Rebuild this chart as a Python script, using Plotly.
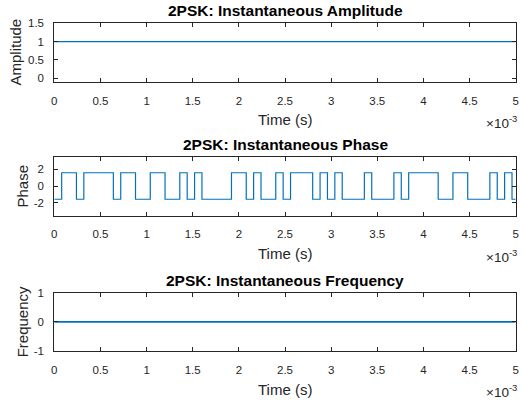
import plotly.graph_objects as go

# ---------------- data ----------------
T_END = 5e-3                 # s
TB = 0.08e-3                 # bit duration (s)
bits = [0, 1, 1, 0, 1, 1, 1, 1, 0, 1, 1, 0, 0, 1, 1, 0, 0, 1, 0, 1, 0,
        0, 0, 0, 1, 1, 0, 1, 0, 0, 1, 0, 1, 1, 1, 0, 1, 0, 1, 0, 0, 0,
        1, 0, 0, 0, 1, 0, 1, 1, 1, 1, 0, 0, 1, 1, 0, 0, 0, 1, 0, 1, 0]
PHASE_LEVELS = {0: -1.5708, 1: 1.5708}
amp_t = [0.0, T_END]
amp_v = [1.0, 1.0]
freq_t = [0.0, T_END]
freq_v = [0.0, 0.0]
x_tickvals = [0, 0.5e-3, 1e-3, 1.5e-3, 2e-3, 2.5e-3, 3e-3, 3.5e-3, 4e-3, 4.5e-3, 5e-3]
x_ticktext = ["0", "0.5", "1", "1.5", "2", "2.5", "3", "3.5", "4", "4.5", "5"]
titles = ["2PSK: Instantaneous Amplitude", "2PSK: Instantaneous Phase",
          "2PSK: Instantaneous Frequency"]
ylabels = ["Amplitude", "Phase", "Frequency"]

phase_t = [i * TB for i in range(len(bits))] + [T_END]
phase_v = [PHASE_LEVELS[b] for b in bits] + [PHASE_LEVELS[bits[-1]]]

# ---------------- layout helpers ----------------
W, H = 521, 405
FONT = "Liberation Sans, Arial, sans-serif"
TXT = "#262626"
BLUE = "#0072BD"

def px_x(x):
    return x / W

def px_y(y):
    return 1 - y / H

x0, x1 = 54.3, 515.7
boxes = [(23.3, 81.7), (156.5, 215.5), (292.7, 351.0)]  # top, bottom in px

fig = go.Figure()
fig.add_trace(go.Scatter(x=amp_t, y=amp_v, mode="lines",
                         line=dict(color=BLUE, width=1.2), xaxis="x", yaxis="y"))
fig.add_trace(go.Scatter(x=phase_t, y=phase_v, mode="lines", line_shape="hv",
                         line=dict(color=BLUE, width=1.2), xaxis="x2", yaxis="y2"))
fig.add_trace(go.Scatter(x=freq_t, y=freq_v, mode="lines",
                         line=dict(color=BLUE, width=1.6), xaxis="x3", yaxis="y3"))

common_x = dict(range=[0, T_END], tickvals=x_tickvals, ticktext=x_ticktext,
                ticks="inside", ticklen=4, tickcolor=TXT, showline=True,
                linecolor=TXT, linewidth=1, mirror="allticks", showgrid=False,
                zeroline=False, tickfont=dict(family=FONT, size=11.5, color=TXT),
                ticklabelstandoff=8, automargin=False, ticklabeloverflow="allow",
                domain=[px_x(x0), px_x(x1)])
common_y = dict(ticks="inside", ticklen=4, tickcolor=TXT, showline=True,
                linecolor=TXT, linewidth=1, mirror="allticks", showgrid=False,
                zeroline=False, tickfont=dict(family=FONT, size=11.5, color=TXT),
                ticklabelstandoff=7, automargin=False)

yranges = [[-0.1, 1.5], [-3.5, 3.5], [-1, 1]]
yticks = [([0, 0.5, 1, 1.5], ["0", "0.5", "1", "1.5"]),
          ([-2, 0, 2], ["-2", "0", "2"]),
          ([-1, 0, 1], ["-1", "0", "1"])]

layout = dict(width=W, height=H, margin=dict(l=0, r=0, t=0, b=0, autoexpand=False),
              paper_bgcolor="white", plot_bgcolor="white", showlegend=False,
              hovermode=False)
annotations = []
ylabel_x = [15, 21.5, 22.5]
for i in range(3):
    top, bot = boxes[i]
    sfx = "" if i == 0 else str(i + 1)
    layout["xaxis" + sfx] = dict(common_x, anchor="y" + sfx)
    layout["yaxis" + sfx] = dict(common_y, anchor="x" + sfx, range=yranges[i],
                                 tickvals=yticks[i][0], ticktext=yticks[i][1],
                                 domain=[px_y(bot), px_y(top)])
    cx = (x0 + x1) / 2
    annotations.append(dict(text="<b>%s</b>" % titles[i], x=px_x(cx), y=px_y(top - 12.5),
                            xref="paper", yref="paper", showarrow=False,
                            xanchor="center", yanchor="middle",
                            font=dict(family=FONT, size=15.5, color="#000000")))
    annotations.append(dict(text="Time (s)", x=px_x(cx), y=px_y(bot + 38),
                            xref="paper", yref="paper", showarrow=False,
                            xanchor="center", yanchor="middle",
                            font=dict(family=FONT, size=15, color=TXT)))
    annotations.append(dict(text="\u00d710<sup>-3</sup>", x=px_x(519), y=px_y(bot + 40),
                            xref="paper", yref="paper", showarrow=False,
                            xanchor="right", yanchor="middle",
                            font=dict(family=FONT, size=13.5, color=TXT)))
    annotations.append(dict(text=ylabels[i], x=px_x(ylabel_x[i]), y=px_y((top + bot) / 2),
                            xref="paper", yref="paper", showarrow=False, textangle=-90,
                            xanchor="center", yanchor="middle",
                            font=dict(family=FONT, size=15, color=TXT)))
layout["annotations"] = annotations
fig.update_layout(**layout)
fig.write_html("out.html", config={"displayModeBar": False, "staticPlot": True},
               post_script="document.body.style.margin='0';"
                           "document.body.style.overflow='hidden';")
